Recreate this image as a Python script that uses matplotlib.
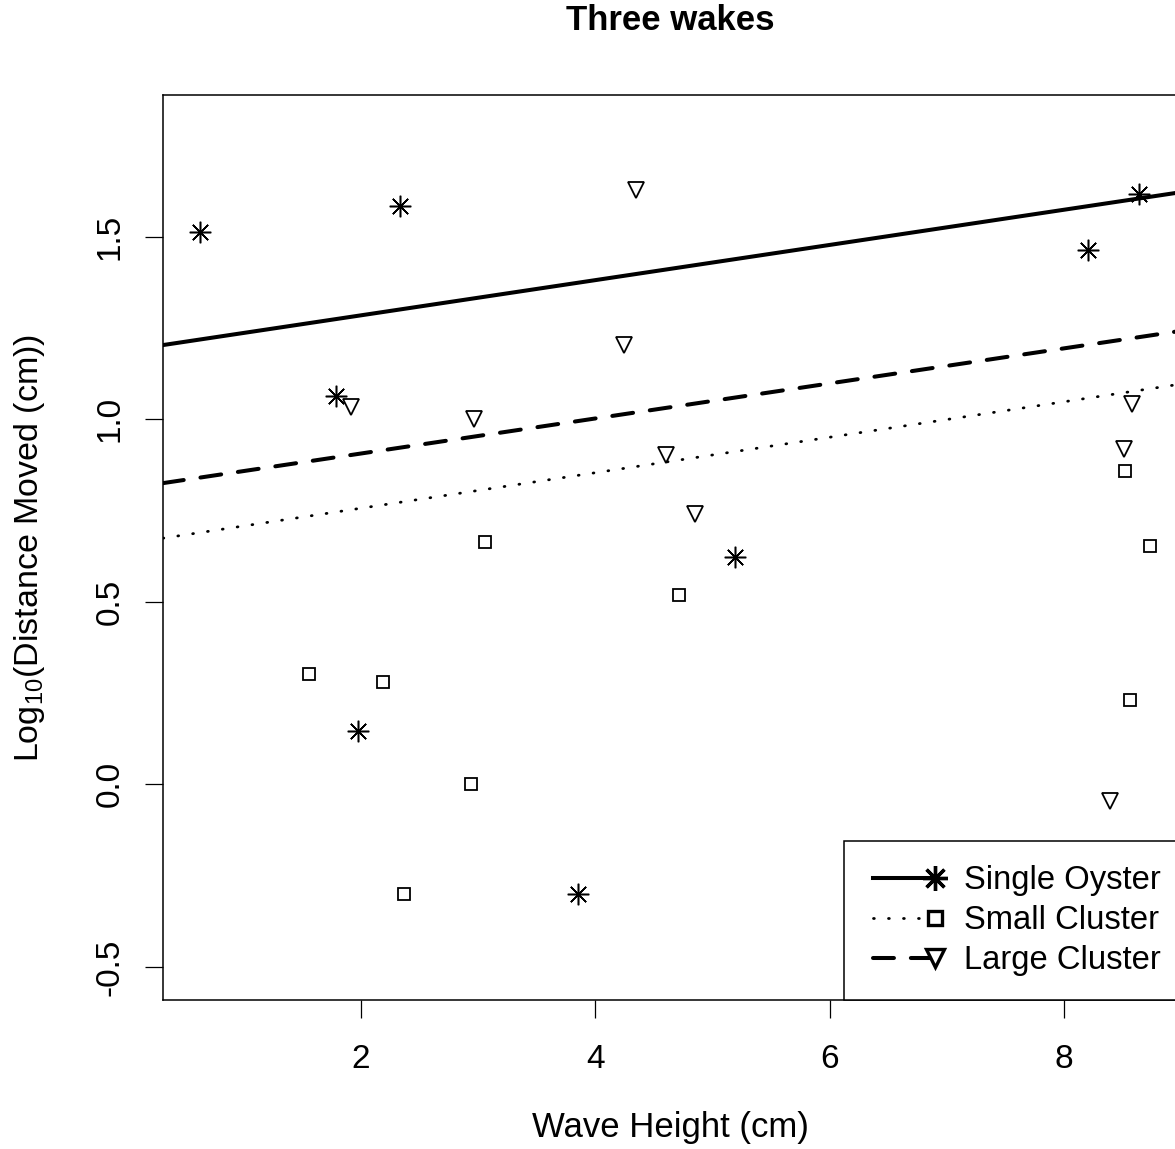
import numpy as np
import matplotlib
matplotlib.use("Agg")
import matplotlib.pyplot as plt
from matplotlib.lines import Line2D
from matplotlib.legend_handler import HandlerLine2D

plt.rcParams['font.family'] = ['Liberation Sans', 'DejaVu Sans']
plt.rcParams['mathtext.fontset'] = 'custom'
plt.rcParams['mathtext.rm'] = 'Liberation Sans'
plt.rcParams['mathtext.default'] = 'regular'

# data (log10 of distance moved)
single_x = [0.63, 2.33, 1.79, 1.97, 3.85, 5.19, 8.20, 8.64]
single_y = [1.512, 1.584, 1.063, 0.145, -0.301, 0.622, 1.462, 1.616]

small_x = [1.56, 2.19, 3.06, 2.94, 2.37, 4.71, 8.52, 8.73, 8.56]
small_y = [0.301, 0.279, 0.663, 0.0, -0.301, 0.518, 0.857, 0.653, 0.230]

large_x = [4.35, 1.91, 2.96, 4.24, 4.60, 4.85, 8.58, 8.51, 8.39]
large_y = [1.627, 1.033, 1.000, 1.204, 0.903, 0.740, 1.041, 0.919, -0.046]

groups = ["Single Oyster", "Small Cluster", "Large Cluster"]
intercepts = [1.188, 0.659, 0.810]
slopes = [0.0482, 0.0486, 0.0480]


class EndMarker(HandlerLine2D):
    # marker only at the right end of the legend line, like R's legend here
    def create_artists(self, legend, orig_handle, xdescent, ydescent,
                       width, height, fontsize, trans):
        xdata = np.array([-xdescent + 0.16 * fontsize, -xdescent + width])
        ydata = np.full_like(xdata, (height - ydescent) / 2)
        legline = Line2D(xdata, ydata)
        self.update_prop(legline, orig_handle, legend)
        legline.set_markevery([1])
        legline.set_transform(trans)
        return [legline]


fig = plt.figure(figsize=(11.75, 11.49), dpi=100)
ax = fig.add_axes([0.13872, 0.12968, 0.86298, 0.78764])
ax.set_xlim(0.31, 8.962)
ax.set_ylim(-0.5905, 1.8877)

star = (8, 2, 0)
lw = 2.9
line_styles = [
    dict(linestyle='-'),
    dict(linestyle=(0, (0.3, 5.1)), dash_capstyle='round'),
    dict(linestyle=(0, (5.2, 4.2)), dash_capstyle='round'),
]
line_lws = [lw, 2.0, lw]
markers = [dict(marker=star, ms=15.5, mew=1.1),
           dict(marker='s', ms=8.6, mew=1.3, mfc='none'),
           dict(marker='v', ms=12, mew=1.3, mfc='none')]
leg_ms = [18, 10.5, 13]
xs_pts = [single_x, small_x, large_x]
ys_pts = [single_y, small_y, large_y]

xl = np.array(ax.get_xlim())
handles = []
for i in range(3):
    ax.plot(xs_pts[i], ys_pts[i], linestyle='none', color='black', **markers[i])
    ax.plot(xl, intercepts[i] + slopes[i] * xl, color='black',
            lw=line_lws[i], **line_styles[i])
    m = dict(markers[i])
    m['mew'] = 2.4
    m['ms'] = leg_ms[i]
    if m.get('mfc') == 'none':
        m['mfc'] = 'white'
    handles.append(Line2D([], [], color='black', lw=line_lws[i],
                          **line_styles[i], **m))

for s in ax.spines.values():
    s.set_linewidth(1.1)

ax.set_xticks([2, 4, 6, 8])
ax.set_yticks([-0.5, 0.0, 0.5, 1.0, 1.5])
ax.set_yticklabels(['-0.5', '0.0', '0.5', '1.0', '1.5'])
ax.tick_params(axis='both', length=13, width=0.9, labelsize=24)
ax.tick_params(axis='x', pad=19)
ax.tick_params(axis='y', pad=14, labelrotation=90)
for t in ax.get_yticklabels():
    t.set_va('center')

ax.set_xlabel('Wave Height (cm)', fontsize=25, va='center')
ax.xaxis.set_label_coords(0.5, -0.1414)
ax.set_ylabel(r'Log$_{10}$(Distance Moved (cm))', fontsize=24.5, va='center')
ax.yaxis.set_label_coords(-0.1312, 0.5)

fig.text(670.5 / 1175, 1 - 21 / 1149, 'Three wakes', ha='center', va='center',
         fontsize=25, fontweight='bold')

leg = ax.legend(handles, groups, loc='lower left',
                bbox_to_anchor=((844 - 163) / 1014, 0), borderaxespad=0,
                fontsize=23.6, handlelength=2.05,
                handletextpad=0.9, borderpad=0.72, labelspacing=0.28,
                fancybox=False, framealpha=1, edgecolor='black',
                handler_map={h: EndMarker() for h in handles})
leg.get_frame().set_linewidth(1.1)

fig.savefig('out.png', dpi=100)
